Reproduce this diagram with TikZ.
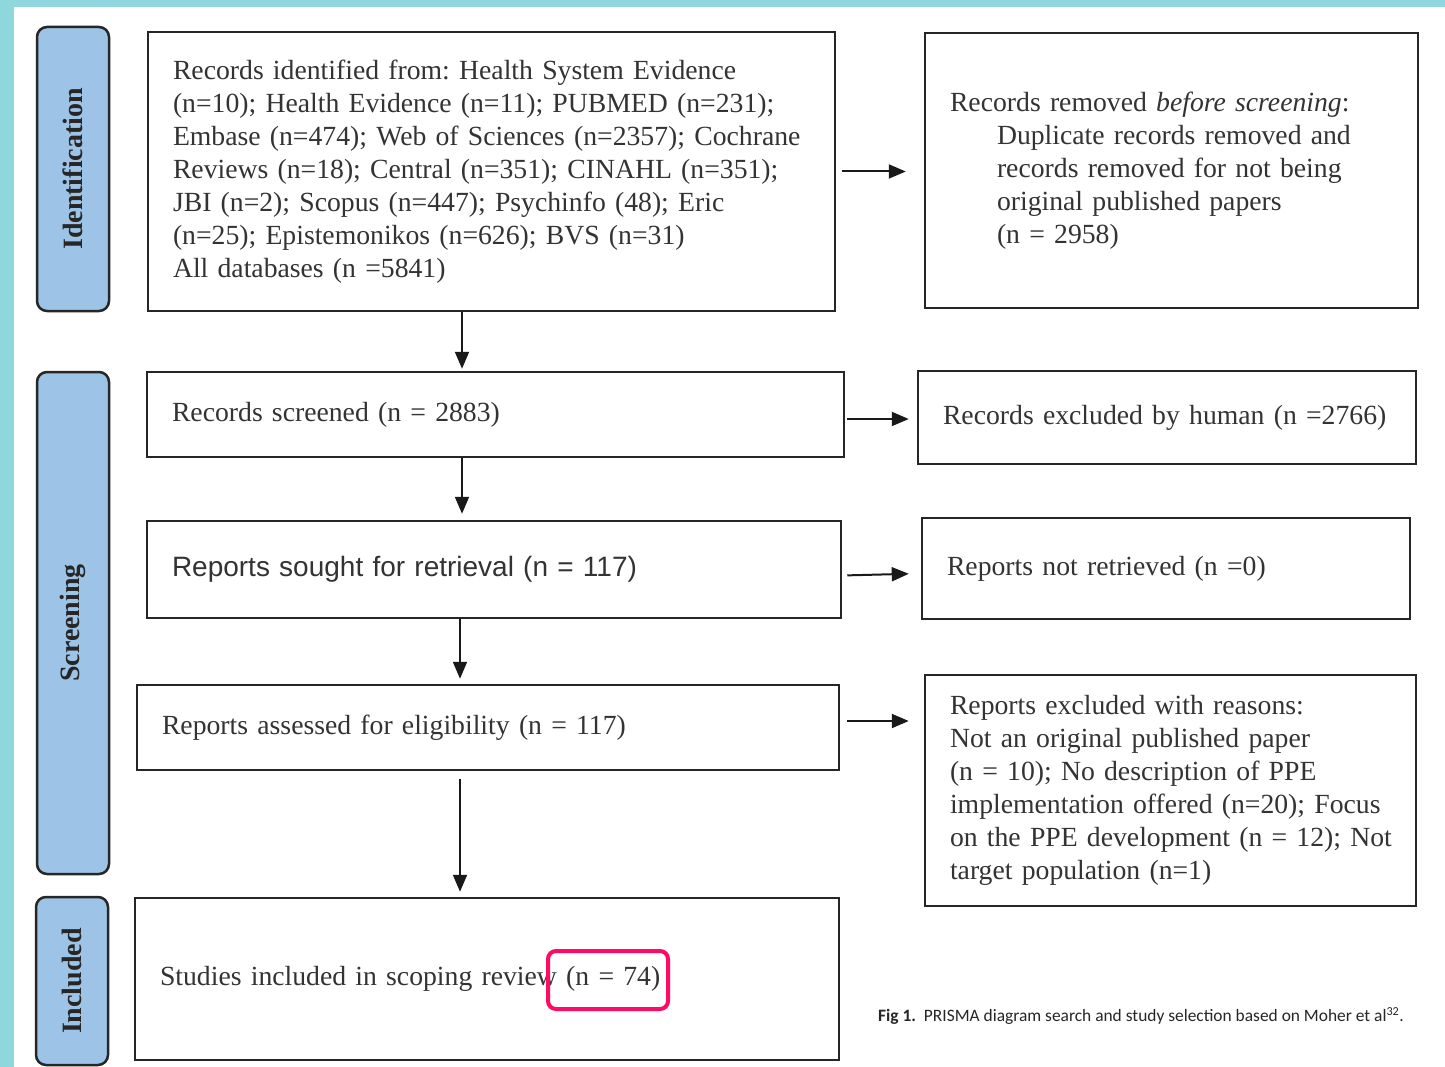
\documentclass[tikz,border=0pt]{standalone}
\usepackage{xcolor}
\usepackage{fontspec}
\setmainfont{Liberation Serif}
\newfontfamily\arialfont{Liberation Sans}
\newfontfamily\captionfont{Carlito}
\usepackage{tikz}
\usetikzlibrary{shapes,arrows.meta,positioning,calc}
\frenchspacing

\definecolor{frameteal}{HTML}{8ED7DC}
\definecolor{stageblue}{HTML}{9DC3E6}
\definecolor{markpink}{HTML}{FF0A64}

\begin{document}
\begin{tikzpicture}[
    x=1pt, y=-1pt,
    stagebox/.style={rectangle, draw=black!85, fill=stageblue, line width=2.5pt, rounded corners=10pt, rotate=90, minimum height=72pt, font=\fontsize{28}{33}\selectfont\bfseries, text=black!85},
    flowbox/.style={rectangle, draw=black!85, line width=2.5pt, align=left, inner xsep=25pt, inner ysep=0pt, font=\fontsize{27.7}{33}\selectfont, text=black!80},
    arrow/.style={-{Triangle[length=17pt,width=14pt]}, line width=2pt, draw=black!90}
]
    \useasboundingbox (0,0) rectangle (1445,1067);
    \fill [white] (0,0) rectangle (1445,1067);
    \fill [frameteal] (0,0) rectangle (1445,7);
    \fill [frameteal] (0,0) rectangle (14,1067);

    \node [stagebox, minimum width=284pt] (sid) at (73,169) {Identification};
    \node [stagebox, minimum width=502pt] (sscr) at (73,623) {Screening};
    \node [stagebox, minimum width=168pt] (sinc) at (72,981) {Included};

    \node [flowbox, text width=637pt, minimum height=279pt] (ident) at (491.5,171.5) {Records identified from: Health System Evidence\\(n=10); Health Evidence (n=11); PUBMED (n=231);\\\mbox{Embase (n=474); Web of Sciences (n=2357); Cochrane}\\Reviews (n=18); Central (n=351); CINAHL (n=351);\\JBI (n=2); Scopus (n=447); Psychinfo (48); Eric\\(n=25); Epistemonikos (n=626); BVS (n=31)\\All databases (n =5841)};
    \node [flowbox, text width=443pt, minimum height=275pt] (removed) at (1171.5,170.5) {Records removed \emph{before screening}:\\\hspace*{47pt}Duplicate records removed and\\\hspace*{47pt}records removed for not being\\\hspace*{47pt}original published papers\\\hspace*{47pt}(n = 2958)};

    \node [flowbox, text width=647pt, minimum height=85pt] (screened) at (495.5,414.5) {Records screened (n = 2883)};
    \node [flowbox, text width=448pt, minimum height=93pt] (excluded) at (1167,417.5) {\mbox{Records excluded by human (n =2766)}};

    \node [flowbox, text width=644pt, minimum height=97pt] (sought) at (494,569.5) {\arialfont\fontsize{28}{33}\selectfont Reports sought for retrieval (n = 117)};
    \node [flowbox, text width=438pt, minimum height=101pt] (notretr) at (1166,568.5) {Reports not retrieved (n =0)};

    \node [flowbox, text width=652pt, minimum height=85pt] (assessed) at (488,727.5) {Reports assessed for eligibility (n = 117)};
    \node [flowbox, text width=441pt, minimum height=231pt] (reasons) at (1170.5,790.5) {Reports excluded with reasons:\\Not an original published paper\\(n = 10); No description of PPE\\\mbox{implementation offered (n=20); Focus}\\\mbox{on the PPE development (n = 12); Not}\\target population (n=1)};

    \node [flowbox, text width=654pt, minimum height=162pt] (included) at (487,979) {Studies included in scoping review (n = 74)};
    \node [rectangle, draw=markpink, line width=4pt, rounded corners=8pt, minimum width=120pt, minimum height=58pt] (highlight) at (608,980) {};

    \node [anchor=west, inner sep=0pt, font=\captionfont\fontsize{17.4}{20}\selectfont, text=black!85] (caption) at (878,1016) {\textbf{Fig 1.}\ \ PRISMA diagram search and study selection based on Moher et al\textsuperscript{32}.};

    \coordinate (colA) at (462,0);
    \coordinate (colB) at (460,0);

    \draw [arrow, shorten >=2pt] (ident.south -| colA) -- (screened.north -| colA);
    \draw [arrow, shorten >=6pt] (screened.south -| colA) -- (sought.north -| colA);
    \draw [arrow, shorten >=5pt] (sought.south -| colB) -- (assessed.north -| colB);
    \draw [arrow, shorten <=8pt, shorten >=5pt] (assessed.south -| colB) -- (included.north -| colB);

    \draw [arrow, shorten <=6pt, shorten >=18pt] (ident.east) -- (removed.west |- ident.east);
    \draw [arrow, shorten <=2pt, shorten >=8pt] ([yshift=-4.5pt]screened.east) -- ([yshift=-4.5pt]excluded.west |- screened.east);
    \draw [arrow, shorten <=5pt, shorten >=12pt] ([yshift=-6pt]sought.east) -- ([yshift=-4pt]notretr.west |- sought.east);
    \draw [arrow, shorten <=7pt, shorten >=15pt] ([yshift=6.5pt]assessed.east) -- ([yshift=6.5pt]reasons.west |- assessed.east);
\end{tikzpicture}
\end{document}
